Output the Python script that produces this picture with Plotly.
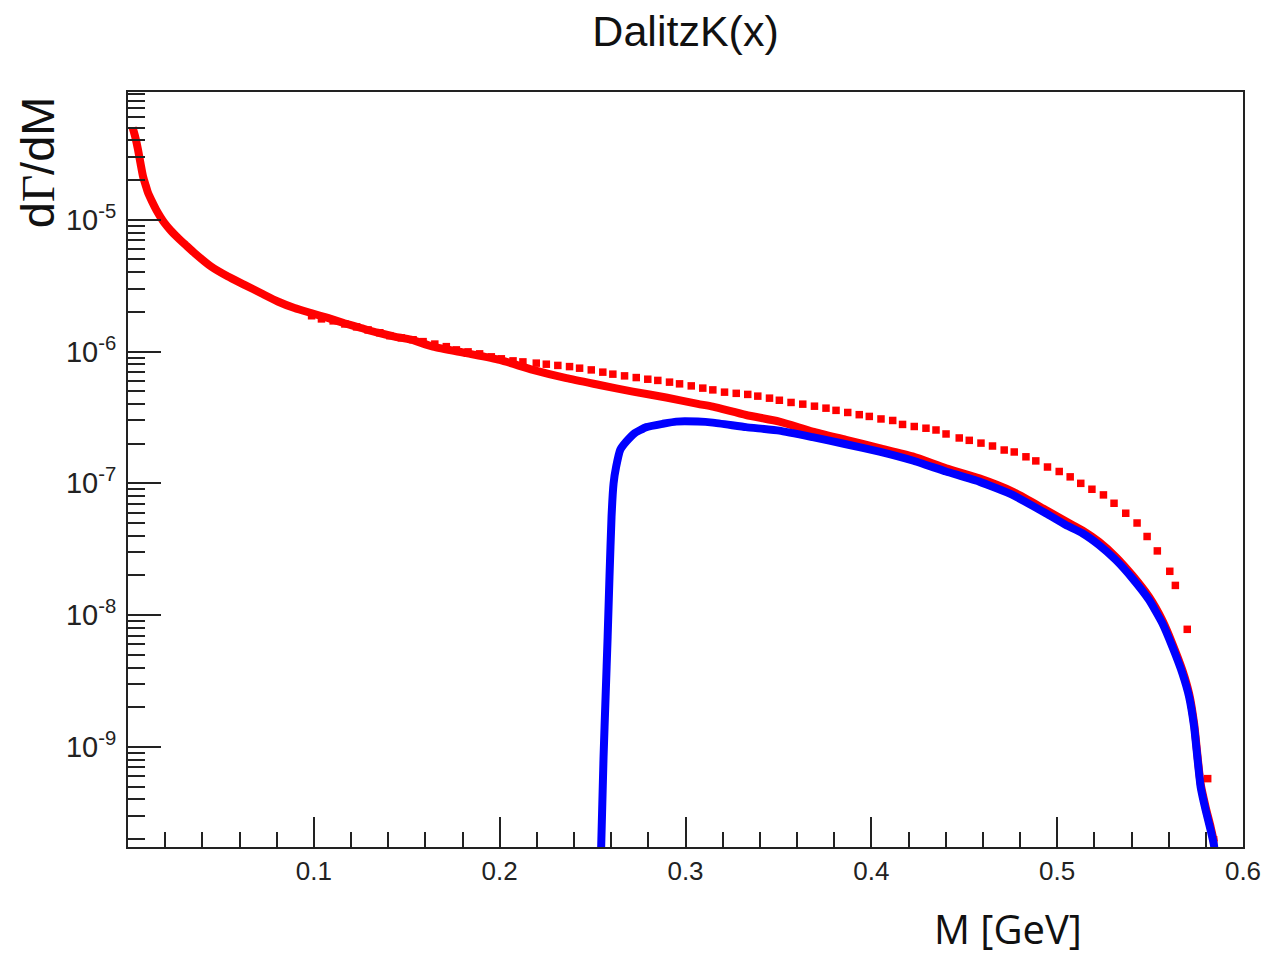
import plotly.graph_objects as go

# ---- data ----
red_M = [0.0025, 0.0040, 0.0054, 0.0068, 0.0081, 0.0095, 0.0108, 0.0130, 0.0152, 0.0175,
         0.0197, 0.0230, 0.0269, 0.0310, 0.0359, 0.0447, 0.0538,
         0.0627, 0.0717, 0.0806, 0.0896, 0.0985, 0.1075, 0.1165, 0.1254, 0.1344, 0.1434,
         0.1523, 0.1641, 0.1821, 0.2000, 0.2179, 0.2359, 0.2538, 0.2717, 0.2896, 0.3066,
         0.3147, 0.3326, 0.3505, 0.3684, 0.3864, 0.4043, 0.4222, 0.4402, 0.4581, 0.4760,
         0.4939, 0.5082, 0.5136, 0.5226, 0.5316, 0.5405, 0.5495, 0.5566, 0.5620, 0.5674,
         0.5710, 0.5737, 0.5754, 0.5772, 0.5799, 0.5826, 0.5844]
red_y = [5.0e-5, 4.2e-5, 3.40e-5, 2.65e-5, 2.13e-5, 1.83e-5, 1.60e-5, 1.37e-5, 1.19e-5, 1.05e-5,
         9.44e-6, 8.3e-6, 7.3e-6, 6.45e-6, 5.58e-6, 4.42e-6, 3.71e-6,
         3.21e-6, 2.77e-6, 2.40e-6, 2.14e-6, 1.96e-6, 1.80e-6, 1.64e-6, 1.51e-6, 1.39e-6, 1.30e-6,
         1.23e-6, 1.09e-6, 9.72e-7, 8.65e-7, 7.26e-7, 6.28e-7, 5.58e-7, 4.97e-7, 4.48e-7, 4.01e-7,
         3.82e-7, 3.30e-7, 2.94e-7, 2.47e-7, 2.14e-7, 1.85e-7, 1.60e-7, 1.30e-7, 1.09e-7, 8.65e-8,
         6.28e-8, 4.83e-8, 4.40e-8, 3.59e-8, 2.76e-8, 2.00e-8, 1.37e-8, 9.12e-9, 6.07e-9, 3.81e-9,
         2.53e-9, 1.50e-9, 8.87e-10, 5.25e-10, 3.49e-10, 2.46e-10, 1.89e-10]

dot_M = [0.0988, 0.1041, 0.1104, 0.1167, 0.1230, 0.1292, 0.1355, 0.1409, 0.1471, 0.1534,
         0.1588, 0.1651, 0.1713, 0.1767, 0.1830, 0.1892, 0.1955, 0.2009, 0.2072, 0.2125,
         0.2197, 0.2251, 0.2313, 0.2376, 0.2430, 0.2493, 0.2555, 0.2609, 0.2672, 0.2735,
         0.2797, 0.2851, 0.2914, 0.2968, 0.3031, 0.3093, 0.3147, 0.3210, 0.3273, 0.3335,
         0.3389, 0.3452, 0.3505, 0.3568, 0.3631, 0.3694, 0.3756, 0.3810, 0.3873, 0.3935,
         0.3989, 0.4052, 0.4115, 0.4168, 0.4231, 0.4294, 0.4348, 0.4402, 0.4473, 0.4527,
         0.4590, 0.4652, 0.4715, 0.4769, 0.4832, 0.4885, 0.4948, 0.5011, 0.5070, 0.5127,
         0.5187, 0.5249, 0.5306, 0.5369, 0.5430, 0.5484, 0.5539, 0.5606, 0.5636, 0.5700,
         0.5810, 0.5842]
dot_y = [1.87e-6, 1.77e-6, 1.71e-6, 1.62e-6, 1.54e-6, 1.46e-6, 1.39e-6, 1.32e-6, 1.27e-6, 1.23e-6,
         1.19e-6, 1.14e-6, 1.09e-6, 1.03e-6, 9.95e-7, 9.61e-7, 9.12e-7, 8.81e-7, 8.50e-7, 8.35e-7,
         8.17e-7, 8.02e-7, 7.85e-7, 7.69e-7, 7.48e-7, 7.26e-7, 6.98e-7, 6.74e-7, 6.54e-7, 6.35e-7,
         6.17e-7, 6.04e-7, 5.86e-7, 5.69e-7, 5.49e-7, 5.28e-7, 5.12e-7, 4.92e-7, 4.82e-7, 4.73e-7,
         4.59e-7, 4.43e-7, 4.27e-7, 4.11e-7, 3.99e-7, 3.85e-7, 3.72e-7, 3.58e-7, 3.45e-7, 3.32e-7,
         3.22e-7, 3.08e-7, 3.00e-7, 2.80e-7, 2.70e-7, 2.62e-7, 2.54e-7, 2.37e-7, 2.21e-7, 2.12e-7,
         2.02e-7, 1.92e-7, 1.79e-7, 1.73e-7, 1.59e-7, 1.48e-7, 1.33e-7, 1.23e-7, 1.12e-7, 1.00e-7,
         9.02e-8, 8.17e-8, 7.06e-8, 5.93e-8, 5.00e-8, 3.95e-8, 3.07e-8, 2.15e-8, 1.68e-8, 7.80e-9,
         5.74e-10, 1.97e-10]

blue_M = [0.2545, 0.2559, 0.2570, 0.2581, 0.2591, 0.2602, 0.2613, 0.2627, 0.2649, 0.2681,
          0.2726, 0.2789, 0.2878, 0.2950, 0.3066, 0.3147, 0.3326, 0.3505, 0.3684, 0.3864,
          0.4043, 0.4222, 0.4402, 0.4581, 0.4760, 0.4939, 0.5047, 0.5136, 0.5226, 0.5316,
          0.5405, 0.5495, 0.5566, 0.5620, 0.5674, 0.5710, 0.5737, 0.5754, 0.5772, 0.5799,
          0.5826, 0.5844, 0.5855]
blue_y = [1.5e-10, 8.41e-10, 2.40e-9, 6.85e-9, 1.96e-8, 5.58e-8, 1.00e-7, 1.34e-7, 1.80e-7, 2.07e-7,
          2.40e-7, 2.67e-7, 2.83e-7, 2.94e-7, 2.94e-7, 2.89e-7, 2.67e-7, 2.51e-7, 2.24e-7, 1.98e-7,
          1.74e-7, 1.49e-7, 1.23e-7, 1.03e-7, 8.17e-8, 5.93e-8, 4.83e-8, 4.18e-8, 3.40e-8, 2.62e-8,
          1.90e-8, 1.30e-8, 8.67e-9, 5.75e-9, 3.61e-9, 2.40e-9, 1.42e-9, 8.41e-10, 4.98e-10, 3.31e-10,
          2.33e-10, 1.79e-10, 1.2e-10]

x_range = [0.0, 0.6]
x_tick_vals = [0.1, 0.2, 0.3, 0.4, 0.5, 0.6]
x_tick_text = ["0.1", "0.2", "0.3", "0.4", "0.5", "0.6"]
y_log_range = [-9.76, -4.03]
y_tick_vals = [1e-9, 1e-8, 1e-7, 1e-6, 1e-5]
y_tick_text = ["10<sup>-9</sup>", "10<sup>-8</sup>", "10<sup>-7</sup>", "10<sup>-6</sup>", "10<sup>-5</sup>"]

FONT = "Liberation Sans, Arial, Helvetica, sans-serif"
AXIS_COLOR = "#222222"

fig = go.Figure()
fig.add_trace(go.Scatter(x=red_M, y=red_y, mode="lines",
                         line=dict(color="#ff0000", width=8, shape="spline", smoothing=0.6),
                         showlegend=False))
fig.add_trace(go.Scatter(x=dot_M, y=dot_y, mode="markers",
                         marker=dict(color="#ff0000", size=7.5, symbol="square", line=dict(width=0)),
                         showlegend=False))
fig.add_trace(go.Scatter(x=blue_M, y=blue_y, mode="lines",
                         line=dict(color="#0000ff", width=8, shape="spline", smoothing=0.4),
                         showlegend=False))

fig.update_layout(
    width=1266, height=955,
    margin=dict(l=128, r=23, t=92, b=108, autoexpand=False),
    paper_bgcolor="white", plot_bgcolor="white",
    font=dict(family=FONT, color="#111111"),
    title=dict(text="DalitzK(x)", x=0.5415, xanchor="center", y=0.968, yanchor="middle",
               font=dict(family=FONT, size=43, color="#111111")),
)

fig.update_xaxes(
    range=x_range, showgrid=False, zeroline=False, automargin=False,
    showline=True, linecolor=AXIS_COLOR, linewidth=2, mirror=True,
    ticks="inside", ticklen=30, tickwidth=2, tickcolor=AXIS_COLOR,
    tickvals=x_tick_vals, ticktext=x_tick_text,
    tickfont=dict(family=FONT, size=26, color="#222222"),
    minor=dict(ticks="inside", ticklen=15, tickwidth=2, tickcolor=AXIS_COLOR, dtick=0.02, tick0=0),
)

fig.update_yaxes(
    type="log", range=y_log_range, showgrid=False, zeroline=False, automargin=False,
    showline=True, linecolor=AXIS_COLOR, linewidth=2, mirror=True,
    ticks="inside", ticklen=33, tickwidth=2, tickcolor=AXIS_COLOR,
    tickvals=y_tick_vals, ticktext=y_tick_text, ticklabelstandoff=4,
    tickfont=dict(family=FONT, size=29, color="#222222"),
    minor=dict(ticks="inside", ticklen=17, tickwidth=2, tickcolor=AXIS_COLOR, dtick="D1"),
)

fig.add_annotation(text='d<span style="font-family:Liberation Serif, Times New Roman, serif">Γ</span>/dM',
                   xref="paper", yref="paper", x=-0.0816, y=0.907, textangle=-90,
                   showarrow=False, xanchor="center", yanchor="middle",
                   font=dict(family=FONT, size=47, color="#111111"))
fig.add_annotation(text="M [GeV]", xref="paper", yref="paper", x=0.789, y=-0.108,
                   showarrow=False, xanchor="center", yanchor="middle",
                   font=dict(family="Open Sans, Noto Sans, sans-serif", size=40, color="#111111"))

fig.write_html("out.html")
